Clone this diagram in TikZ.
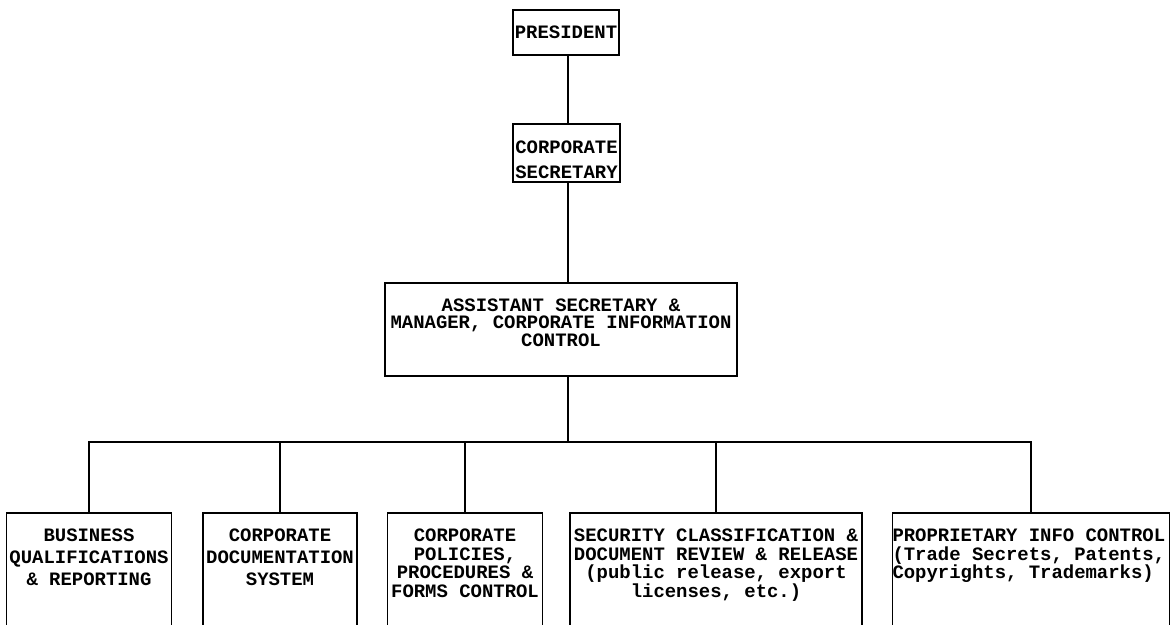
\documentclass[tikz,border=0pt]{standalone}
\usepackage{fontspec}
\setmonofont{Liberation Mono}
\newcommand{\unittext}[3][\centering]{\parbox[t][120pt][t]{#2}{#1 #3}}
\begin{document}
\begin{tikzpicture}[x=0.75pt,y=-0.75pt,
    orgbox/.style={draw, line width=1.2pt, inner sep=0pt, align=center,
        font=\ttfamily\bfseries\fontsize{14.2pt}{#1}\selectfont},
    orgbox/.default=14pt,
    unitbox/.style={draw, line width=1.2pt, anchor=north, inner xsep=0pt, inner ysep=12pt,
        font=\ttfamily\bfseries\fontsize{14.2pt}{#1}\selectfont},
    unitbox/.default=14pt,
    link/.style={line width=1.2pt}]
    % page frame
    \useasboundingbox (0,0) rectangle (1173,624);
    \clip (0,0) rectangle (1173,624);

    % place nodes
    \node[orgbox, minimum width=79.5pt, minimum height=33.75pt] at (566,32.5) (pres) {PRESIDENT};
    \node[orgbox=18.75pt, minimum width=80.25pt, minimum height=43.5pt] at (566.5,153) (sec)
        {\rule{0pt}{19pt}CORPORATE\\SECRETARY};
    \node[orgbox=13.1pt, minimum width=264pt, minimum height=69.75pt] at (561,329.5) (asst)
        {ASSISTANT SECRETARY \&\\MANAGER, CORPORATE INFORMATION\\CONTROL\rule[-10.5pt]{0pt}{10.5pt}};

    \node[unitbox=16.5pt] at (89,512) (bqr) {\unittext{123.75pt}{BUSINESS\\QUALIFICATIONS\\\& REPORTING}};
    \node[unitbox=16.5pt] at (280,512) (cds) {\unittext{115.5pt}{CORPORATE\\DOCUMENTATION\\SYSTEM}};
    \node[unitbox=13.9pt] at (465,512) (ppf) {\unittext{116.25pt}{CORPORATE\\POLICIES,\\PROCEDURES \&\\FORMS CONTROL}};
    \node[unitbox=13.9pt] at (716,512) (scd) {\unittext{219pt}{SECURITY CLASSIFICATION \&\\DOCUMENT REVIEW \& RELEASE\\(public release, export\\licenses, etc.)}};
    \node[unitbox=13.9pt] at (1031,512) (pic) {\unittext[\raggedright]{207.75pt}{PROPRIETARY INFO CONTROL\\(Trade Secrets, Patents,\\Copyrights, Trademarks)}};

    \coordinate (hub) at (568,442);

    % draw edges
    \draw[link] (pres.south -| hub) -- (sec.north -| hub);
    \draw[link] (sec.south -| hub) -- (asst.north -| hub);
    \draw[link] (asst.south -| hub) -- (hub);
    \draw[link] (bqr.north) |- (hub) -| (pic.north);
    \foreach \n in {cds, ppf, scd}
        \draw[link] (\n.north) -- (\n.north |- hub);
\end{tikzpicture}
\end{document}
